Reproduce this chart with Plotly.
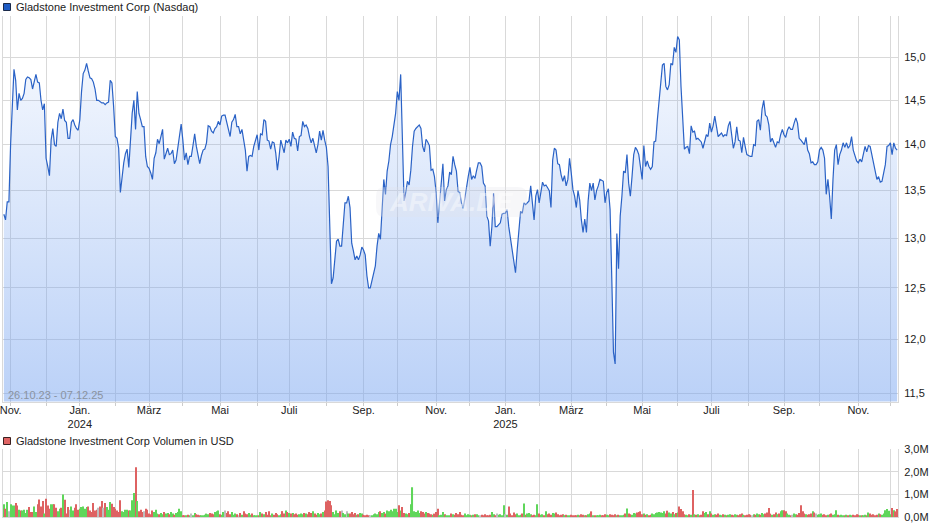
import numpy as np
import pandas as pd
import plotly.graph_objects as go

# ---------------- data ----------------
holidays = ["2023-11-23", "2023-12-25", "2024-01-01", "2024-01-15", "2024-02-19",
            "2024-03-29", "2024-05-27", "2024-06-19", "2024-07-04", "2024-09-02",
            "2024-11-28", "2024-12-25", "2025-01-01", "2025-01-09", "2025-01-20",
            "2025-02-17", "2025-04-18", "2025-05-26", "2025-06-19", "2025-07-04",
            "2025-09-01", "2025-11-27"]
days = pd.bdate_range("2023-10-26", "2025-12-05")
days = days[~days.isin(pd.to_datetime(holidays))]
dates = days.strftime("%Y-%m-%d").tolist()

close = [
    13.25, 13.19, 13.38, 13.38, 14.00, 14.50, 14.86, 14.73, 14.39, 14.58,
    14.50, 14.52, 14.58, 14.74, 14.77, 14.76, 14.74, 14.63, 14.70, 14.80,
    14.71, 14.70, 14.50, 14.39, 14.46, 13.85, 13.76, 13.66, 14.05, 14.18,
    14.00, 13.98, 14.25, 14.35, 14.29, 14.40, 14.27, 14.25, 14.07, 14.07,
    14.25, 14.28, 14.22, 14.18, 14.16, 14.28, 14.60, 14.81, 14.85, 14.93,
    14.84, 14.76, 14.75, 14.71, 14.63, 14.50, 14.50, 14.48, 14.47, 14.47,
    14.45, 14.47, 14.48, 14.73, 14.70, 14.43, 14.09, 14.07, 13.96, 13.48,
    13.66, 13.80, 13.90, 13.95, 13.75, 14.05, 14.35, 14.50, 14.17, 14.60,
    14.35, 14.28, 14.20, 14.20, 13.87, 13.76, 13.74, 13.69, 13.62, 13.85,
    13.91, 14.06, 14.01, 14.09, 14.17, 13.84, 13.91, 13.96, 13.89, 13.90,
    13.94, 13.79, 13.83, 13.96, 14.15, 14.23, 14.05, 13.83, 13.91, 13.78,
    13.87, 13.87, 13.99, 14.12, 13.98, 13.89, 13.79, 13.88, 13.94, 13.95,
    14.02, 14.21, 14.20, 14.15, 14.13, 14.18, 14.20, 14.26, 14.22, 14.32,
    14.33, 14.33, 14.24, 14.15, 14.09, 14.25, 14.28, 14.34, 14.20, 14.20,
    14.12, 14.17, 14.05, 13.94, 13.71, 13.87, 13.88, 13.87, 13.98, 14.05,
    14.11, 13.94, 14.12, 14.11, 14.28, 14.26, 14.05, 14.04, 13.95, 14.03,
    14.02, 13.91, 13.72, 13.87, 14.05, 13.98, 13.91, 14.05, 14.02, 14.06,
    13.98, 14.14, 14.07, 14.06, 13.93, 14.09, 14.10, 14.26, 14.20, 14.22,
    14.18, 14.09, 14.02, 14.07, 13.98, 13.91, 14.00, 14.15, 14.05, 14.16,
    14.05, 13.97, 13.76, 13.12, 12.54, 12.60, 12.82, 12.97, 12.99, 12.92,
    12.92, 13.16, 13.37, 13.37, 13.44, 13.32, 12.95, 12.87, 12.78, 12.82,
    12.78, 12.83, 12.91, 12.88, 12.83, 12.62, 12.50, 12.50, 12.58, 12.65,
    12.72, 12.92, 13.05, 12.99, 13.37, 13.62, 13.46, 13.71, 13.82, 14.00,
    14.09, 14.20, 14.35, 14.60, 14.50, 14.80, 14.13, 13.39, 13.48, 13.60,
    13.56, 13.72, 13.98, 14.15, 14.18, 14.20, 14.22, 14.18, 13.98, 13.92,
    14.06, 14.03, 13.99, 13.72, 13.73, 13.65, 13.48, 13.16, 13.37, 13.62,
    13.79, 13.39, 13.51, 13.55, 13.70, 13.67, 13.87, 13.78, 13.71, 13.49,
    13.48, 13.37, 13.31, 13.42, 13.55, 13.65, 13.75, 13.62, 13.66, 13.63,
    13.72, 13.80, 13.80, 13.76, 13.58, 13.55, 13.23, 13.18, 12.92, 13.12,
    13.47, 13.12, 13.12, 13.14, 13.16, 13.25, 13.26, 13.26, 13.30, 13.12,
    12.99, 12.85, 12.72, 12.65, 12.88, 13.12, 13.28, 13.26, 13.37, 13.35,
    13.37, 13.39, 13.55, 13.33, 13.19, 13.44, 13.51, 13.37, 13.50, 13.59,
    13.55, 13.56, 13.53, 13.50, 13.32, 13.83, 13.96, 13.94, 13.79, 13.78,
    13.67, 13.60, 13.66, 13.55, 13.62, 13.85, 13.69, 13.51, 13.44, 13.32,
    13.50, 13.40, 13.19, 13.06, 13.20, 13.06, 13.39, 13.58, 13.50, 13.58,
    13.40, 13.50, 13.55, 13.62, 13.61, 13.60, 13.37, 13.48, 13.52, 13.30,
    12.60, 11.88, 11.77, 13.05, 12.69, 13.23, 13.44, 13.71, 13.69, 13.89,
    13.58, 13.44, 13.65, 13.89, 13.97, 13.94, 13.89, 13.76, 13.62, 13.99,
    13.76, 13.82, 13.76, 13.73, 13.76, 14.03, 14.04, 14.28, 14.50, 14.71,
    14.91, 14.93, 14.66, 14.62, 14.68, 14.93, 14.91, 15.12, 15.06, 15.25,
    15.21, 14.66, 14.24, 13.95, 13.97, 13.98, 13.90, 14.21, 14.14, 14.15,
    14.06, 14.07, 14.05, 14.03, 13.96, 14.04, 14.11, 14.09, 14.24, 14.14,
    14.21, 14.32, 14.20, 14.09, 14.11, 14.13, 14.09, 14.11, 14.10, 14.21,
    14.26, 14.11, 13.96, 14.03, 14.20, 14.05, 14.04, 13.91, 14.08, 13.98,
    13.89, 13.88, 13.87, 13.87, 14.00, 13.99, 14.26, 14.28, 14.16, 14.40,
    14.50, 14.33, 14.31, 14.22, 14.03, 14.07, 14.02, 13.97, 14.03, 14.02,
    14.11, 14.17, 14.11, 14.08, 14.16, 14.20, 14.17, 14.17, 14.24, 14.30,
    14.24, 14.07, 14.05, 14.02, 14.00, 14.08, 13.94, 13.90, 13.80, 13.81,
    13.78, 13.78, 13.81, 13.94, 13.97, 13.94, 13.85, 13.46, 13.62, 13.44,
    13.20, 13.62, 13.94, 14.00, 13.78, 13.89, 13.94, 14.02, 13.97, 14.02,
    13.96, 13.99, 14.09, 13.94, 13.87, 13.82, 13.80, 13.84, 13.81, 13.89,
    13.98, 13.92, 13.99, 13.98, 13.89, 13.79, 13.71, 13.62, 13.65, 13.59,
    13.60, 13.69, 13.78, 13.98, 13.99, 14.02, 13.89, 14.02, 13.96, 13.94,
]

# volume in millions
volume_m = [
    0.56, 0.37, 0.66, 0.26, 0.56, 0.51, 0.51, 0.62, 0.51, 0.32,
    0.29, 0.29, 0.32, 0.18, 0.32, 0.44, 0.22, 0.22, 0.47, 0.22,
    0.56, 0.78, 0.47, 0.71, 0.15, 0.81, 0.51, 0.37, 0.56, 0.56,
    0.56, 0.41, 0.26, 0.37, 0.41, 1.00, 0.76, 0.15, 0.44, 0.32,
    0.47, 0.29, 0.41, 0.56, 0.32, 0.37, 0.44, 0.47, 0.37, 0.44,
    0.47, 0.29, 0.22, 0.62, 0.29, 0.32, 0.41, 0.47, 0.71, 0.41,
    0.62, 0.44, 0.32, 0.66, 0.59, 0.44, 0.37, 0.29, 0.22, 0.74,
    0.26, 0.22, 0.32, 0.32, 0.29, 0.29, 0.74, 1.06, 2.21, 0.71,
    0.26, 0.32, 0.22, 0.26, 0.37, 0.32, 0.15, 0.12, 0.29, 0.22,
    0.32, 0.15, 0.12, 0.18, 0.12, 0.22, 0.15, 0.18, 0.12, 0.22,
    0.15, 0.10, 0.18, 0.22, 0.37, 0.26, 0.08, 0.06, 0.05, 0.10,
    0.08, 0.15, 0.05, 0.18, 0.12, 0.10, 0.06, 0.05, 0.08, 0.10,
    0.15, 0.12, 0.18, 0.15, 0.12, 0.22, 0.26, 0.29, 0.12, 0.10,
    0.22, 0.29, 0.18, 0.26, 0.12, 0.22, 0.10, 0.15, 0.12, 0.08,
    0.18, 0.10, 0.26, 0.15, 0.12, 0.18, 0.10, 0.15, 0.08, 0.06,
    0.05, 0.08, 0.22, 0.15, 0.12, 0.22, 0.10, 0.26, 0.08, 0.15,
    0.10, 0.18, 0.12, 0.08, 0.12, 0.26, 0.15, 0.29, 0.22, 0.18,
    0.15, 0.18, 0.12, 0.15, 0.10, 0.12, 0.15, 0.12, 0.18, 0.15,
    0.12, 0.22, 0.18, 0.26, 0.15, 0.10, 0.18, 0.12, 0.15, 0.22,
    0.29, 0.69, 0.74, 0.71, 0.52, 0.22, 0.12, 0.29, 0.18, 0.26,
    0.29, 0.18, 0.12, 0.26, 0.15, 0.15, 0.22, 0.12, 0.18, 0.10,
    0.12, 0.18, 0.15, 0.10, 0.08, 0.10, 0.08, 0.05, 0.08, 0.12,
    0.15, 0.12, 0.22, 0.26, 0.18, 0.22, 0.15, 0.29, 0.26, 0.32,
    0.26, 0.37, 0.37, 0.22, 0.52, 0.29, 0.44, 0.18, 0.15, 0.12,
    0.18, 0.56, 1.32, 0.26, 0.22, 0.29, 0.18, 0.26, 0.22, 0.15,
    0.22, 0.18, 0.15, 0.12, 0.10, 0.15, 0.22, 0.37, 0.08, 0.10,
    0.22, 0.12, 0.08, 0.05, 0.06, 0.15, 0.12, 0.10, 0.18, 0.12,
    0.22, 0.10, 0.08, 0.15, 0.08, 0.12, 0.10, 0.08, 0.10, 0.12,
    0.12, 0.08, 0.06, 0.10, 0.08, 0.12, 0.05, 0.06, 0.10, 0.22,
    0.12, 0.08, 0.15, 0.10, 0.12, 0.08, 0.52, 0.12, 0.10, 0.47,
    0.15, 0.08, 0.20, 0.12, 0.15, 0.08, 0.10, 0.15, 0.60, 0.10,
    0.15, 0.18, 0.12, 0.08, 0.10, 0.08, 0.56, 0.15, 0.10, 0.12,
    0.08, 0.25, 0.12, 0.15, 0.10, 0.18, 0.15, 0.20, 0.12, 0.08,
    0.10, 0.12, 0.08, 0.10, 0.06, 0.08, 0.10, 0.05, 0.08, 0.06,
    0.10, 0.08, 0.12, 0.10, 0.05, 0.08, 0.12, 0.15, 0.25, 0.08,
    0.06, 0.05, 0.08, 0.10, 0.06, 0.08, 0.12, 0.10, 0.08, 0.12,
    0.10, 0.08, 0.12, 0.06, 0.10, 0.08, 0.06, 0.10, 0.15, 0.38,
    0.15, 0.12, 0.10, 0.18, 0.15, 0.20, 0.22, 0.25, 0.12, 0.15,
    0.10, 0.12, 0.08, 0.10, 0.15, 0.12, 0.18, 0.20, 0.22, 0.20,
    0.18, 0.25, 0.15, 0.28, 0.20, 0.15, 0.22, 0.12, 0.18, 0.20,
    0.47, 0.35, 0.25, 0.12, 0.10, 0.08, 0.12, 0.10, 1.20, 0.12,
    0.10, 0.12, 0.08, 0.10, 0.25, 0.18, 0.22, 0.12, 0.25, 0.15,
    0.10, 0.12, 0.10, 0.15, 0.10, 0.08, 0.12, 0.10, 0.08, 0.10,
    0.12, 0.10, 0.08, 0.12, 0.10, 0.08, 0.12, 0.15, 0.10, 0.08,
    0.10, 0.12, 0.10, 0.08, 0.12, 0.10, 0.15, 0.12, 0.10, 0.18,
    0.12, 0.15, 0.20, 0.40, 0.15, 0.10, 0.12, 0.20, 0.12, 0.15,
    0.25, 0.30, 0.30, 0.25, 0.15, 0.10, 0.08, 0.10, 0.15, 0.12,
    0.10, 0.18, 0.52, 0.25, 0.15, 0.12, 0.10, 0.12, 0.15, 0.25,
    0.20, 0.15, 0.10, 0.12, 0.15, 0.10, 0.12, 0.08, 0.10, 0.12,
    0.15, 0.10, 0.12, 0.30, 0.10, 0.08, 0.10, 0.08, 0.06, 0.10,
    0.08, 0.10, 0.06, 0.10, 0.08, 0.12, 0.10, 0.08, 0.06, 0.08,
    0.10, 0.08, 0.20, 0.15, 0.10, 0.12, 0.08, 0.10, 0.15, 0.12,
    0.10, 0.15, 0.30, 0.35, 0.28, 0.12, 0.40, 0.30, 0.25, 0.35,
]

tick_months = ["2023-11", "2023-12", "2024-01", "2024-02", "2024-03", "2024-04",
               "2024-05", "2024-06", "2024-07", "2024-08", "2024-09", "2024-10",
               "2024-11", "2024-12", "2025-01", "2025-02", "2025-03", "2025-04",
               "2025-05", "2025-06", "2025-07", "2025-08", "2025-09", "2025-10",
               "2025-11", "2025-12"]
tick_labels = ["Nov.", "", "Jan.<br>2024", "", "März", "", "Mai", "", "Juli", "",
               "Sep.", "", "Nov.", "", "Jan.<br>2025", "", "März", "", "Mai", "",
               "Juli", "", "Sep.", "", "Nov.", ""]

price_ticks = [11.5, 12.0, 12.5, 13.0, 13.5, 14.0, 14.5, 15.0]
price_tick_text = ["11,5", "12,0", "12,5", "13,0", "13,5", "14,0", "14,5", "15,0"]
vol_ticks = [0, 1e6, 2e6, 3e6]
vol_tick_text = ["0,0M", "1,0M", "2,0M", "3,0M"]

title_price = "Gladstone Investment Corp (Nasdaq)"
title_volume = "Gladstone Investment Corp Volumen in USD"
date_range_text = "26.10.23 - 07.12.25"

assert len(dates) == len(close) == len(volume_m)

# first trading day of each tick month
month_of = [d[:7] for d in dates]
tickvals = [dates[month_of.index(m)] for m in tick_months]

volume = [v * 1e6 for v in volume_m]
chg = np.diff(np.array(close), prepend=close[0] - 0.01)
GREEN, RED, GREY = "#5fd65a", "#de6262", "#bdbdbd"
bar_colors = [GREEN if c > 0 else (RED if c < 0 else GREY) for c in chg]

# ---------------- layout geometry ----------------
W, H = 940, 526
ML, MR, MT, MB = 3, 42, 16, 9
PW, PH = W - ML - MR, H - MT - MB


def pxx(px):
    return (px - ML) / PW


def pxy(py):
    return (H - MB - py) / PH


price_dom = [pxy(401.5), 1.0]
vol_dom = [0.0, pxy(449.3)]

GRID = "#d9d9d9"
TXT = "#222222"
FONT = "Liberation Sans, Arial, sans-serif"

fig = go.Figure()

fig.add_trace(go.Scatter(
    x=dates, y=close, mode="lines",
    line=dict(color="#2a62c6", width=1.2),
    fill="tozeroy",
    fillgradient=dict(type="vertical", start=11.42, stop=15.5,
                      colorscale=[[0, "rgba(118,163,240,0.50)"],
                                  [1, "rgba(118,163,240,0.04)"]]),
    xaxis="x", yaxis="y", showlegend=False, hoverinfo="x+y",
))

fig.add_trace(go.Bar(
    x=dates, y=volume, marker=dict(color=bar_colors, line=dict(width=0)),
    xaxis="x2", yaxis="y2", showlegend=False,
))

axis_common = dict(
    type="category", range=[-0.5, len(dates) - 0.5],
    tickmode="array", tickvals=tickvals,
    showgrid=True, gridcolor=GRID, gridwidth=1,
    zeroline=False, fixedrange=True, automargin=False,
)

fig.update_layout(
    width=W, height=H,
    margin=dict(l=ML, r=MR, t=MT, b=MB, pad=0, autoexpand=False),
    paper_bgcolor="white", plot_bgcolor="white",
    separators=",.",
    font=dict(family=FONT, size=11, color=TXT),
    bargap=0.35,
    xaxis=dict(**axis_common, anchor="y", domain=[0, 1],
               ticktext=tick_labels, ticks="outside", ticklen=3,
               tickcolor="#cccccc", showline=True, linecolor=GRID,
               ticklabelstandoff=-5,
               tickfont=dict(family=FONT, size=11, color=TXT)),
    xaxis2=dict(**axis_common, anchor="y2", domain=[0, 1], matches="x",
                showticklabels=False, ticks="", showline=True, linecolor=GRID),
    yaxis=dict(domain=price_dom, type="log",
               range=[np.log10(11.425), np.log10(15.50)],
               side="right", tickmode="array", tickvals=price_ticks,
               ticktext=price_tick_text, showgrid=True, gridcolor=GRID,
               zeroline=False, showline=True, mirror=True, linecolor=GRID,
               ticks="outside", ticklen=3, tickcolor="rgba(0,0,0,0)",
               automargin=False,
               tickfont=dict(family=FONT, size=11, color=TXT), fixedrange=True),
    yaxis2=dict(domain=vol_dom, range=[0, 3e6], side="right",
                tickmode="array", tickvals=vol_ticks, ticktext=vol_tick_text,
                showgrid=True, gridcolor=GRID, zeroline=False,
                showline=True, mirror=True, linecolor=GRID,
                ticks="outside", ticklen=3, tickcolor="rgba(0,0,0,0)",
                automargin=False,
                tickfont=dict(family=FONT, size=11, color=TXT), fixedrange=True),
)

# title squares
fig.add_shape(type="rect", xref="paper", yref="paper",
              x0=pxx(3.5), x1=pxx(10.5), y0=pxy(10.5), y1=pxy(3.5),
              fillcolor="#1f5cc4", line=dict(color="#1b2a4a", width=1))
fig.add_shape(type="rect", xref="paper", yref="paper",
              x0=pxx(3.5), x1=pxx(10.5), y0=pxy(444.5), y1=pxy(437.5),
              fillcolor="#e06464", line=dict(color="#3a2020", width=1))

fig.add_annotation(text=title_price, xref="paper", yref="paper",
                   x=pxx(13.5), y=pxy(6.5), xanchor="left", yanchor="middle",
                   showarrow=False, font=dict(family=FONT, size=11, color=TXT))
fig.add_annotation(text=title_volume, xref="paper", yref="paper",
                   x=pxx(13.5), y=pxy(440.5), xanchor="left", yanchor="middle",
                   showarrow=False, font=dict(family=FONT, size=11, color=TXT))
fig.add_annotation(text=date_range_text, xref="paper", yref="paper",
                   x=pxx(6), y=pxy(395), xanchor="left", yanchor="middle",
                   showarrow=False, font=dict(family=FONT, size=11, color="#8a93a0"))

# watermark: rounded box + text
x0, x1, y0, y1, r = 376, 527, 187, 217, 9
path = (f"M {pxx(x0 + r)},{pxy(y0)} L {pxx(x1 - r)},{pxy(y0)} "
        f"Q {pxx(x1)},{pxy(y0)} {pxx(x1)},{pxy(y0 + r)} "
        f"L {pxx(x1)},{pxy(y1 - r)} Q {pxx(x1)},{pxy(y1)} {pxx(x1 - r)},{pxy(y1)} "
        f"L {pxx(x0 + r)},{pxy(y1)} Q {pxx(x0)},{pxy(y1)} {pxx(x0)},{pxy(y1 - r)} "
        f"L {pxx(x0)},{pxy(y0 + r)} Q {pxx(x0)},{pxy(y0)} {pxx(x0 + r)},{pxy(y0)} Z")
fig.add_shape(type="path", xref="paper", yref="paper", path=path,
              fillcolor="rgba(225,228,234,0.28)", line=dict(width=0), layer="above")
fig.add_annotation(text="ARIVA.DE", xref="paper", yref="paper",
                   x=pxx(451), y=pxy(202), xanchor="center", yanchor="middle",
                   showarrow=False,
                   font=dict(family="Liberation Sans, Arial", size=26,
                             color="rgba(255,255,255,0.42)", weight="bold",
                             style="italic"))

fig.write_html("out.html",
               config={"displayModeBar": False},
               post_script="document.body.style.margin='0';document.body.style.padding='0';")
